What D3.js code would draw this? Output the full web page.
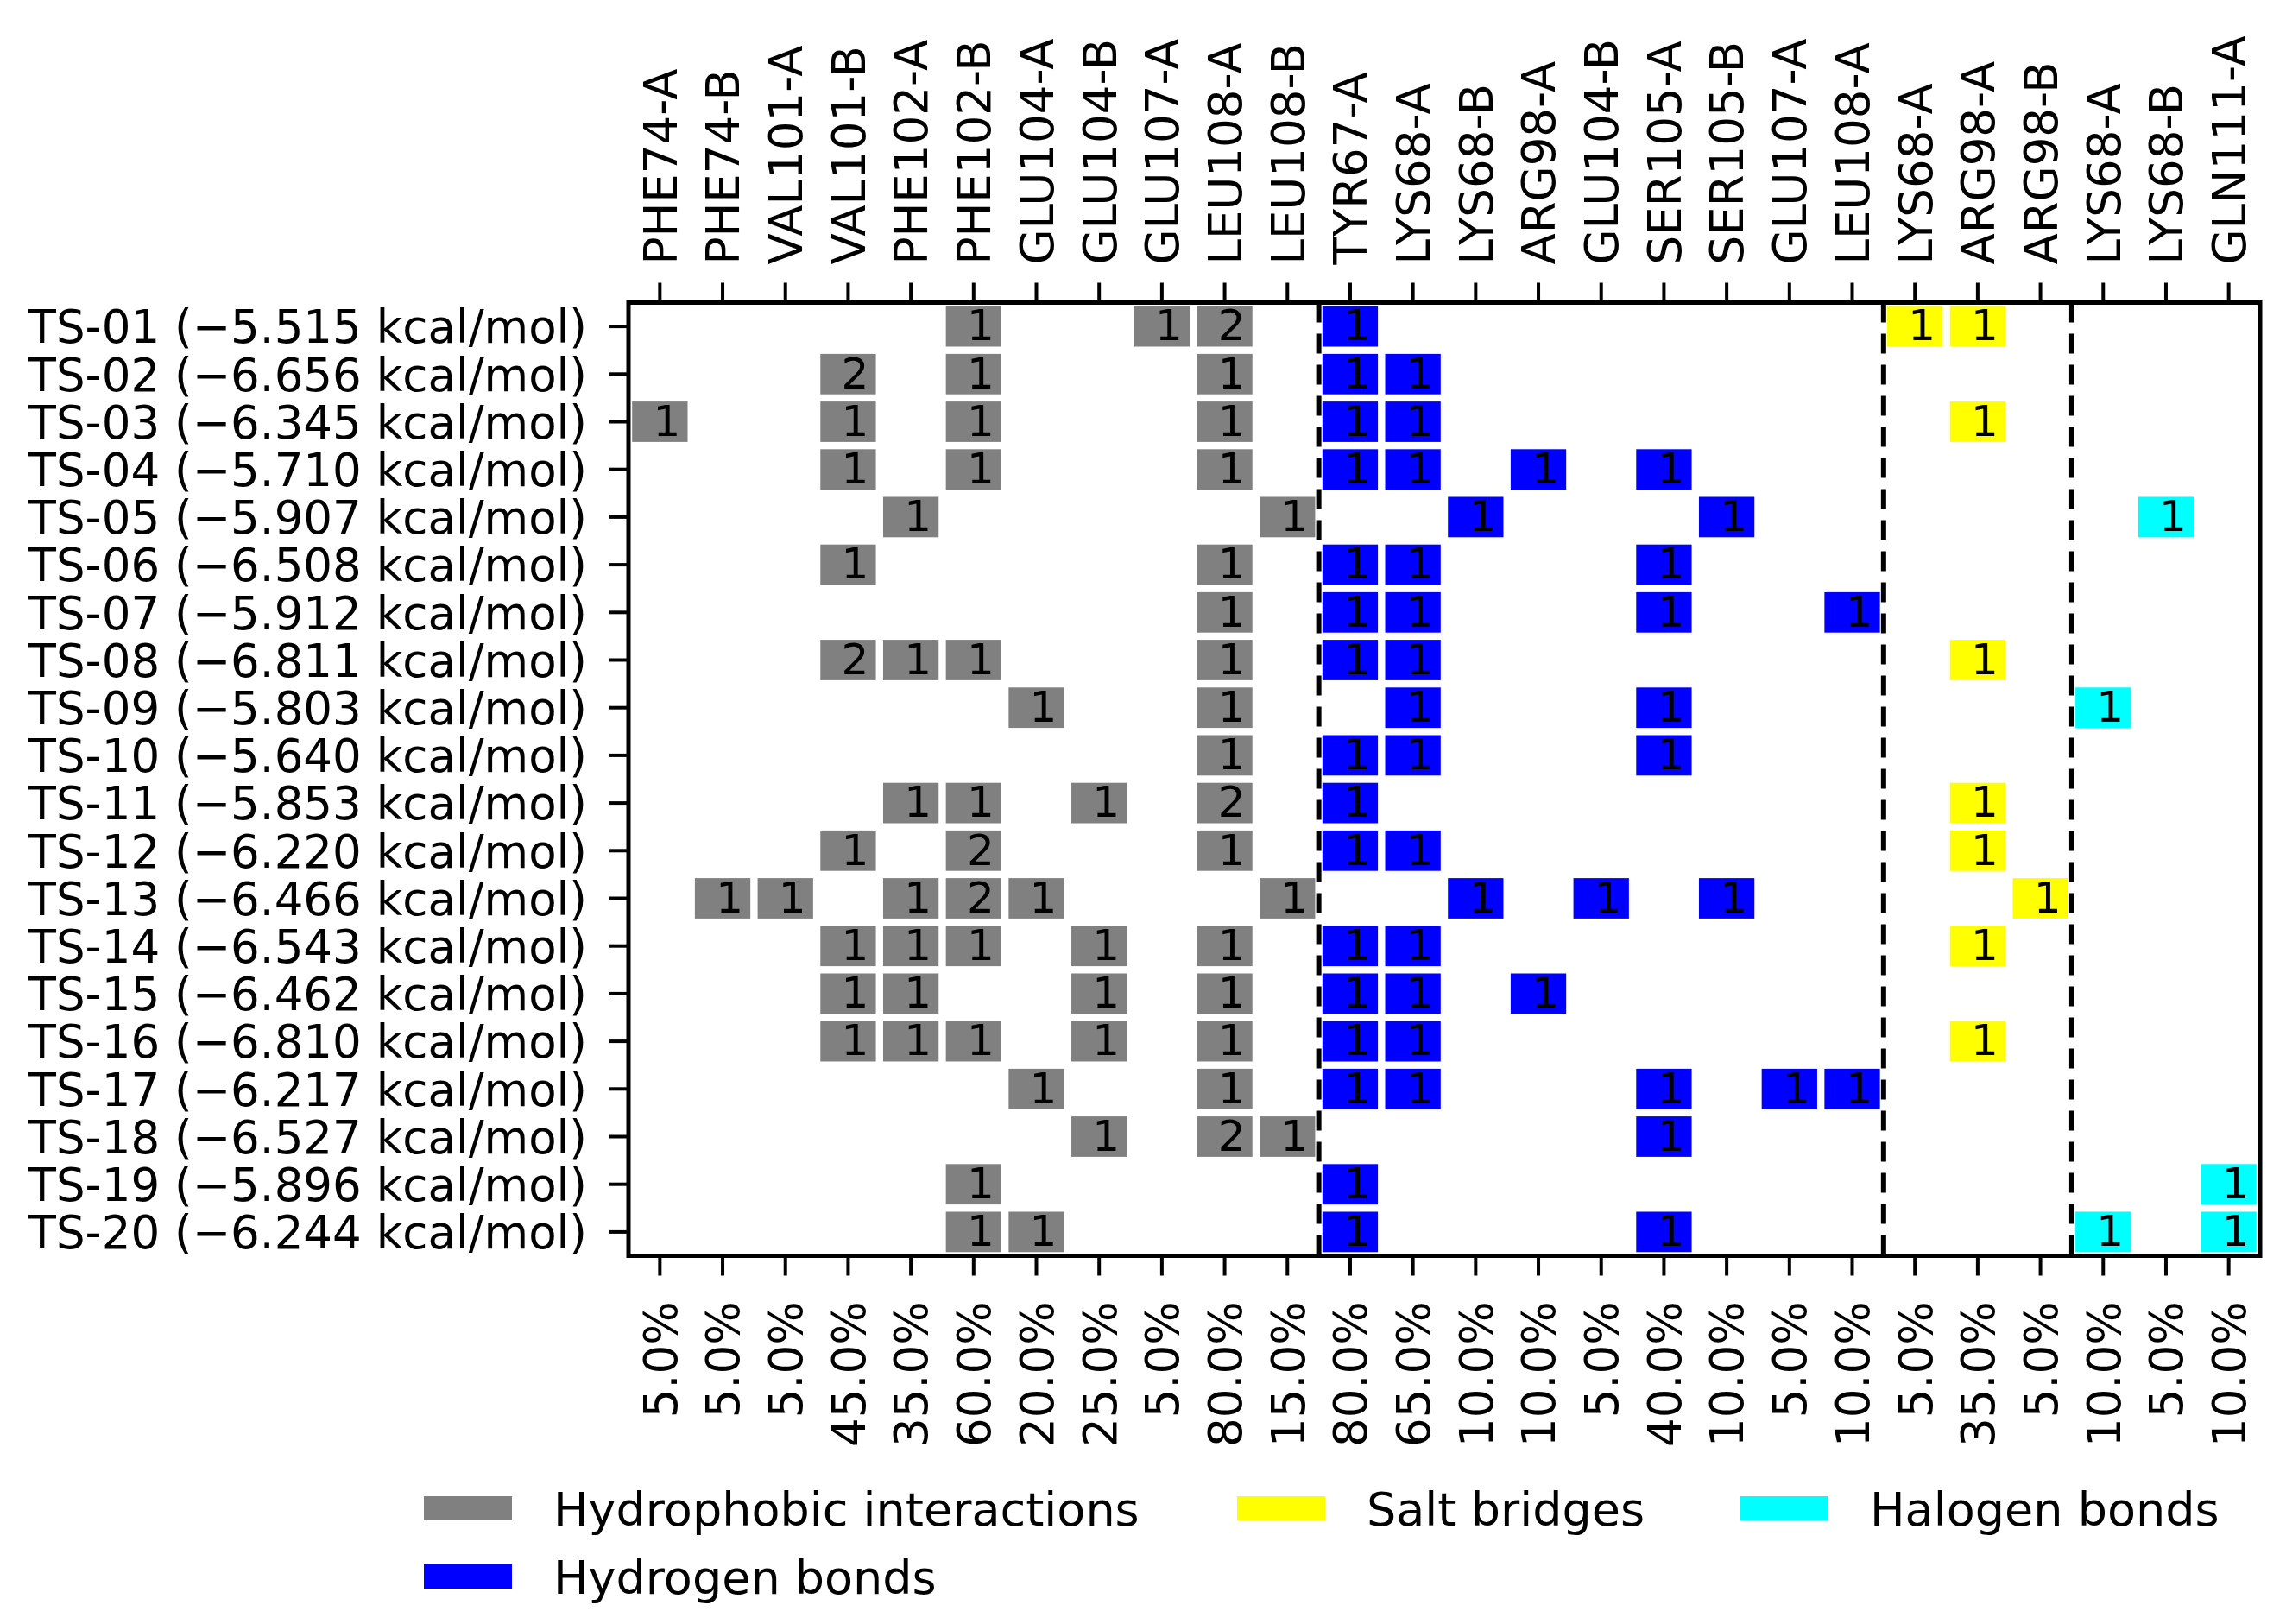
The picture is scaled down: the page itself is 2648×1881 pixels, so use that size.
<!DOCTYPE html>
<html>
<head>
<meta charset="utf-8">
<script src="https://cdn.jsdelivr.net/npm/d3@7"></script>
<style>
  body { margin: 0; background: #fff; }
  svg { display: block; font-family: "DejaVu Sans", sans-serif; }
</style>
</head>
<body>
<svg id="chart" width="2648" height="1881"></svg>
<script>
// residue columns, grouped by interaction type
const hydrophobicRes = ["PHE74-A", "PHE74-B", "VAL101-A", "VAL101-B", "PHE102-A", "PHE102-B",
                        "GLU104-A", "GLU104-B", "GLU107-A", "LEU108-A", "LEU108-B"];
const hbondRes = ["TYR67-A", "LYS68-A", "LYS68-B", "ARG98-A", "GLU104-B", "SER105-A",
                  "SER105-B", "GLU107-A", "LEU108-A"];
const saltRes = ["LYS68-A", "ARG98-A", "ARG98-B"];
const halogenRes = ["LYS68-A", "LYS68-B", "GLN111-A"];

// bottom tick labels (occurrence over the 20 structures)
const percentLabels = ["5.0%", "5.0%", "5.0%", "45.0%", "35.0%", "60.0%", "20.0%", "25.0%", "5.0%",
                       "80.0%", "15.0%", "80.0%", "65.0%", "10.0%", "10.0%", "5.0%", "40.0%",
                       "10.0%", "5.0%", "10.0%", "5.0%", "35.0%", "5.0%", "10.0%", "5.0%", "10.0%"];

const structures = ["TS-01", "TS-02", "TS-03", "TS-04", "TS-05", "TS-06", "TS-07", "TS-08", "TS-09", "TS-10",
                    "TS-11", "TS-12", "TS-13", "TS-14", "TS-15", "TS-16", "TS-17", "TS-18", "TS-19", "TS-20"];
const energies = ["−5.515", "−6.656", "−6.345", "−5.710", "−5.907", "−6.508", "−5.912", "−6.811", "−5.803", "−5.640",
                  "−5.853", "−6.220", "−6.466", "−6.543", "−6.462", "−6.810", "−6.217", "−6.527", "−5.896", "−6.244"];

// counts per structure (rows) and residue (columns)
const hydrophobic = [
  [0,0,0,0,0,1,0,0,1,2,0],
  [0,0,0,2,0,1,0,0,0,1,0],
  [1,0,0,1,0,1,0,0,0,1,0],
  [0,0,0,1,0,1,0,0,0,1,0],
  [0,0,0,0,1,0,0,0,0,0,1],
  [0,0,0,1,0,0,0,0,0,1,0],
  [0,0,0,0,0,0,0,0,0,1,0],
  [0,0,0,2,1,1,0,0,0,1,0],
  [0,0,0,0,0,0,1,0,0,1,0],
  [0,0,0,0,0,0,0,0,0,1,0],
  [0,0,0,0,1,1,0,1,0,2,0],
  [0,0,0,1,0,2,0,0,0,1,0],
  [0,1,1,0,1,2,1,0,0,0,1],
  [0,0,0,1,1,1,0,1,0,1,0],
  [0,0,0,1,1,0,0,1,0,1,0],
  [0,0,0,1,1,1,0,1,0,1,0],
  [0,0,0,0,0,0,1,0,0,1,0],
  [0,0,0,0,0,0,0,1,0,2,1],
  [0,0,0,0,0,1,0,0,0,0,0],
  [0,0,0,0,0,1,1,0,0,0,0]
];
const hbond = [
  [1,0,0,0,0,0,0,0,0],
  [1,1,0,0,0,0,0,0,0],
  [1,1,0,0,0,0,0,0,0],
  [1,1,0,1,0,1,0,0,0],
  [0,0,1,0,0,0,1,0,0],
  [1,1,0,0,0,1,0,0,0],
  [1,1,0,0,0,1,0,0,1],
  [1,1,0,0,0,0,0,0,0],
  [0,1,0,0,0,1,0,0,0],
  [1,1,0,0,0,1,0,0,0],
  [1,0,0,0,0,0,0,0,0],
  [1,1,0,0,0,0,0,0,0],
  [0,0,1,0,1,0,1,0,0],
  [1,1,0,0,0,0,0,0,0],
  [1,1,0,1,0,0,0,0,0],
  [1,1,0,0,0,0,0,0,0],
  [1,1,0,0,0,1,0,1,1],
  [0,0,0,0,0,1,0,0,0],
  [1,0,0,0,0,0,0,0,0],
  [1,0,0,0,0,1,0,0,0]
];
const salt = [
  [1,1,0],[0,0,0],[0,1,0],[0,0,0],[0,0,0],[0,0,0],[0,0,0],[0,1,0],[0,0,0],[0,0,0],
  [0,1,0],[0,1,0],[0,0,1],[0,1,0],[0,0,0],[0,1,0],[0,0,0],[0,0,0],[0,0,0],[0,0,0]
];
const halogen = [
  [0,0,0],[0,0,0],[0,0,0],[0,0,0],[0,1,0],[0,0,0],[0,0,0],[0,0,0],[1,0,0],[0,0,0],
  [0,0,0],[0,0,0],[0,0,0],[0,0,0],[0,0,0],[0,0,0],[0,0,0],[0,0,0],[0,0,1],[1,0,1]
];

const groups = [
  {name: "Hydrophobic interactions", res: hydrophobicRes, counts: hydrophobic, color: "#808080"},
  {name: "Hydrogen bonds", res: hbondRes, counts: hbond, color: "#0000ff"},
  {name: "Salt bridges", res: saltRes, counts: salt, color: "#ffff00"},
  {name: "Halogen bonds", res: halogenRes, counts: halogen, color: "#00ffff"}
];

// flatten columns
const columns = [];
groups.forEach((g, gi) => g.res.forEach((r, j) => columns.push({label: r, group: gi, j: j})));

const svg = d3.select("#chart");
const plotLeft = 728, plotRight = 2618, plotTop = 350.5, plotBottom = 1454.5;
const fs = 53;

const x = d3.scaleBand().domain(d3.range(columns.length)).range([plotLeft, plotRight]);
const y = d3.scaleBand().domain(d3.range(structures.length)).range([plotTop, plotBottom]);

// cells
const cells = [];
columns.forEach((c, ci) => {
    structures.forEach((s, ri) => {
        const v = groups[c.group].counts[ri][c.j];
        if (v > 0) cells.push({ci: ci, ri: ri, v: v, color: groups[c.group].color});
    });
});

const inset = 4.2;
svg.append("g").selectAll("rect")
    .data(cells)
    .enter()
    .append("rect")
    .attr("x", d => x(d.ci) + inset)
    .attr("y", d => y(d.ri) + inset)
    .attr("width", x.bandwidth() - 2 * inset)
    .attr("height", y.bandwidth() - 2 * inset)
    .attr("fill", d => d.color);

svg.append("g").selectAll("text")
    .data(cells)
    .enter()
    .append("text")
    .attr("x", d => x(d.ci) + x.bandwidth() / 2 + 8)
    .attr("y", d => y(d.ri) + y.bandwidth() / 2 - 2)
    .attr("dy", "0.365em")
    .attr("text-anchor", "middle")
    .attr("font-size", 50)
    .text(d => d.v);

// dashed separators between groups
let acc = 0;
const seps = [];
groups.slice(0, -1).forEach(g => { acc += g.res.length; seps.push(acc); });
svg.append("g").selectAll("line")
    .data(seps)
    .enter()
    .append("line")
    .attr("x1", d => x(d)).attr("x2", d => x(d))
    .attr("y1", plotTop).attr("y2", plotBottom)
    .attr("stroke", "#000")
    .attr("stroke-width", 6)
    .attr("stroke-dasharray", "23,13");

// axes
const tickLen = 23;
const styleAxis = g => {
    g.select(".domain").remove();
    g.selectAll(".tick line").attr("stroke", "#000").attr("stroke-width", 4);
    g.selectAll(".tick text").attr("fill", "#000").attr("font-size", fs)
        .attr("font-family", "DejaVu Sans");
};

const gTop = svg.append("g")
    .attr("transform", `translate(0,${plotTop})`)
    .call(d3.axisTop(x).tickSize(tickLen).tickFormat(i => columns[i].label))
    .call(styleAxis);
gTop.selectAll(".tick text")
    .attr("transform", "translate(0,-44) rotate(-90)")
    .attr("x", 0).attr("y", 0).attr("dy", "0.365em")
    .attr("text-anchor", "start");

const gBottom = svg.append("g")
    .attr("transform", `translate(0,${plotBottom})`)
    .call(d3.axisBottom(x).tickSize(tickLen).tickFormat(i => percentLabels[i]))
    .call(styleAxis);
gBottom.selectAll(".tick text")
    .attr("transform", "translate(0,53) rotate(-90)")
    .attr("x", 0).attr("y", 0).attr("dy", "0.365em")
    .attr("text-anchor", "end");

const gLeft = svg.append("g")
    .attr("transform", `translate(${plotLeft},0)`)
    .call(d3.axisLeft(y).tickSize(tickLen).tickPadding(25)
        .tickFormat(i => `${structures[i]} (${energies[i]} kcal/mol)`))
    .call(styleAxis);
gLeft.selectAll(".tick text").attr("dy", "0.365em");

// frame
svg.append("rect")
    .attr("x", plotLeft).attr("y", plotTop)
    .attr("width", plotRight - plotLeft).attr("height", plotBottom - plotTop)
    .attr("fill", "none")
    .attr("stroke", "#000")
    .attr("stroke-width", 5);

// legend (3 columns, filled column-wise)
const legendPos = [
    {px: 491, py: 1747},
    {px: 491, py: 1826},
    {px: 1433, py: 1747},
    {px: 2016, py: 1747}
];
const legend = svg.append("g").selectAll("g")
    .data(groups)
    .enter()
    .append("g")
    .attr("transform", (d, i) => `translate(${legendPos[i].px},${legendPos[i].py})`);
legend.append("rect")
    .attr("x", 0).attr("y", -14)
    .attr("width", 102).attr("height", 28)
    .attr("fill", d => d.color);
legend.append("text")
    .attr("x", 150).attr("y", 0).attr("dy", "0.365em")
    .attr("font-size", 54)
    .text(d => d.name);
</script>
</body>
</html>
